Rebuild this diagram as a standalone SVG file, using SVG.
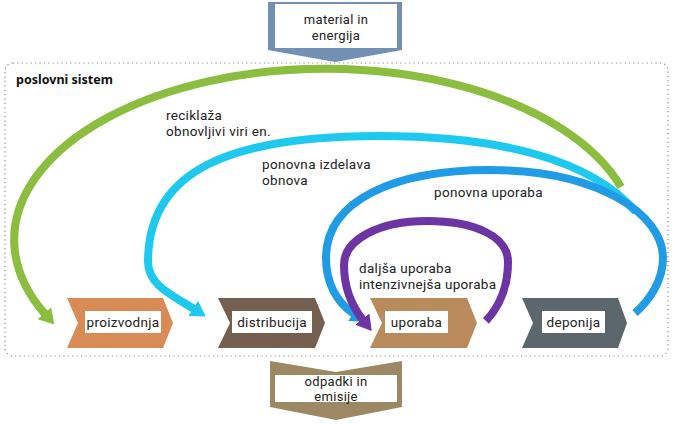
<svg xmlns="http://www.w3.org/2000/svg" width="675" height="424" viewBox="0 0 675 424">
<style>
text{font-family:Roboto,"Noto Sans","DejaVu Sans",sans-serif;font-size:13.5px;letter-spacing:0.3px;fill:#222}
.c{text-anchor:middle}
.s{font-size:13px}
.b{font-family:"Noto Sans","Open Sans",sans-serif;font-weight:bold;font-size:12.5px;letter-spacing:0;fill:#111}
.arc{fill:none;stroke-width:8;stroke-linecap:butt}
.box{fill:#fff}
</style>
<defs>
<marker id="mg" markerUnits="userSpaceOnUse" viewBox="0 -10 20 20" markerWidth="20" markerHeight="20" refX="1" refY="0" orient="auto"><path d="M0,-9 L15,0 L0,9 Z" fill="#8bbd3f"/></marker>
<marker id="mc" markerUnits="userSpaceOnUse" viewBox="0 -10 20 20" markerWidth="20" markerHeight="20" refX="1" refY="0" orient="auto"><path d="M0,-9 L15,0 L0,9 Z" fill="#1dc9ef"/></marker>
<marker id="mb" markerUnits="userSpaceOnUse" viewBox="0 -10 20 20" markerWidth="20" markerHeight="20" refX="1" refY="0" orient="auto"><path d="M0,-9 L15,0 L0,9 Z" fill="#209ce6"/></marker>
<marker id="mp" markerUnits="userSpaceOnUse" viewBox="0 -10 20 20" markerWidth="20" markerHeight="20" refX="1" refY="0" orient="auto"><path d="M0,-9 L15,0 L0,9 Z" fill="#6c35a3"/></marker>
</defs>

<g id="system">
<rect x="5" y="63" width="663" height="293" rx="8" fill="none" stroke="#8a8a8a" stroke-width="1.2" stroke-dasharray="1.2 3.2"/>
<text class="b" x="16" y="84">poslovni sistem</text>
</g>

<g id="input">
<polygon points="268,2 402,2 402,50 335,62 268,50" fill="#7290b4"/>
<rect class="box" x="275" y="4" width="122" height="44"/>
<text class="c s" x="336" y="24">material in</text>
<text class="c s" x="336" y="40">energija</text>
</g>

<g id="output">
<polygon points="270,361 336,372 402,361 402,407 336,420 270,407" fill="#9c8964"/>
<rect class="box" x="275" y="375" width="122" height="27"/>
<text class="c s" x="336" y="385.5">odpadki in</text>
<text class="c s" x="336" y="401">emisije</text>
</g>

<g id="connectors">
<path class="arc" stroke="#8bbd3f" d="M621,187 A311,171 0 1 0 45,314" marker-end="url(#mg)"/>
<path class="arc" stroke="#1dc9ef" d="M636,212 C592,160 500,136 380,136 C230,136 148,170 148,262 C148,285 172,295 194,309" marker-end="url(#mc)"/>
<path class="arc" stroke="#209ce6" d="M635,313 C650,300 663,280 663,258 C663,215 600,170 490,170 C395,170 326,200 326,258 C326,282 336,302 354,314" marker-end="url(#mb)"/>
<path class="arc" stroke="#6c35a3" stroke-width="7" d="M486,321 C498,308 508,288 508,262 C508,236 474,221 427,221 C378,221 344,240 344,265 C344,287 351,305 363,320" marker-end="url(#mp)"/>
<text x="166" y="120">reciklaža</text>
<text x="166" y="136">obnovljivi viri en.</text>
<text x="262" y="169">ponovna izdelava</text>
<text x="262" y="185">obnova</text>
<text x="434" y="197">ponovna uporaba</text>
<text x="359" y="273">daljša uporaba</text>
<text x="359" y="289">intenzivnejša uporaba</text>
</g>

<g id="proizvodnja">
<polygon points="67,298 163,298 173,323 163,348 67,348 78,323" fill="#d88b55"/>
<rect class="box" x="85" y="311" width="76" height="22"/>
<text class="c" x="123" y="327">proizvodnja</text>
</g>

<g id="distribucija">
<polygon points="218,298 315,298 325,323 315,348 218,348 230,323" fill="#755f4e"/>
<rect class="box" x="232" y="311" width="80" height="22"/>
<text class="c" x="272" y="327">distribucija</text>
</g>

<g id="uporaba">
<polygon points="370,298 467,298 477,323 467,348 370,348 382,323" fill="#b98a5b"/>
<rect class="box" x="385" y="311" width="63" height="22"/>
<text class="c" x="416.5" y="327">uporaba</text>
</g>

<g id="deponija">
<polygon points="522,298 618,298 627,323 618,348 522,348 533,323" fill="#5c676d"/>
<rect class="box" x="542" y="311" width="63" height="22"/>
<text class="c" x="573.5" y="327">deponija</text>
</g>
</svg>
